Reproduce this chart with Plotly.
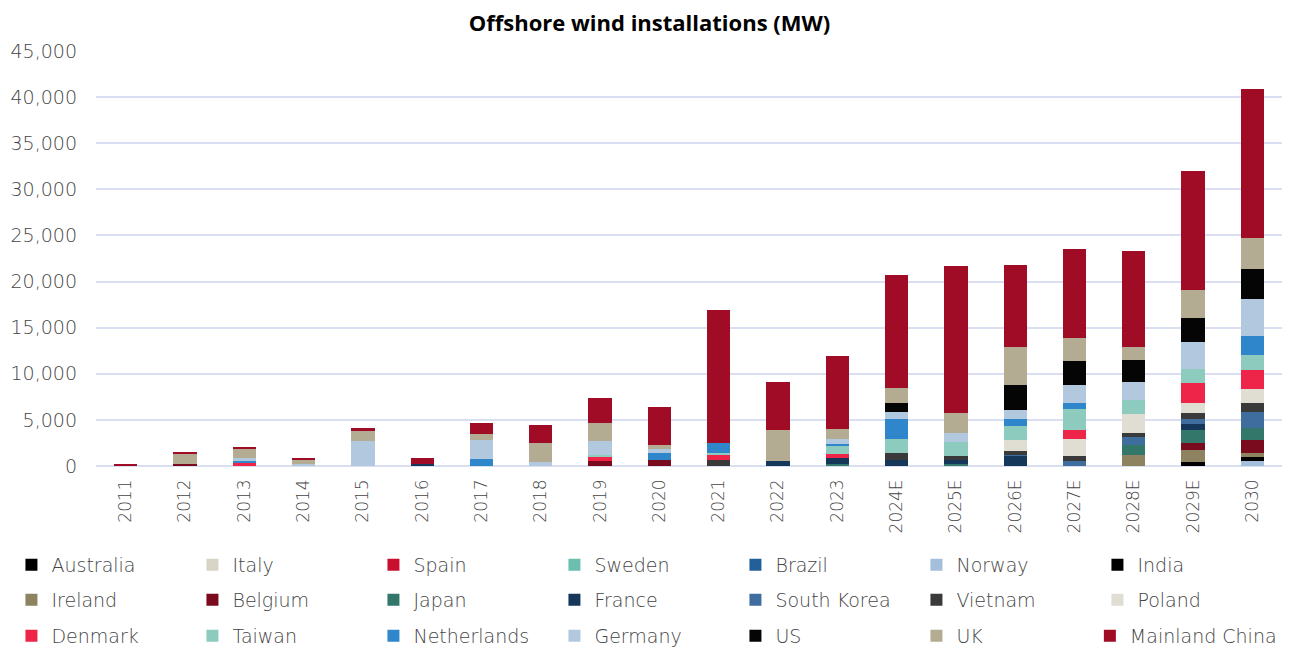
import plotly.graph_objects as go

years = ["2011", "2012", "2013", "2014", "2015", "2016", "2017", "2018", "2019", "2020",
         "2021", "2022", "2023", "2024E", "2025E", "2026E", "2027E", "2028E", "2029E", "2030"]

def z():
    return [0] * 20

australia = z(); australia[18] = 400
italy = z()
spain = z()
sweden = z()
brazil = z()
norway = z(); norway[19] = 540
india = z(); india[19] = 470
ireland = [0, 0, 0, 0, 0, 0, 0, 0, 0, 0, 0, 0, 0, 0, 0, 0, 0, 1200, 1340, 430]
belgium = [0, 220, 0, 100, 0, 0, 0, 0, 550, 620, 0, 0, 0, 0, 0, 0, 0, 0, 720, 1380]
japan = [0, 0, 0, 0, 0, 0, 0, 0, 0, 0, 0, 0, 180, 0, 180, 0, 0, 1050, 1450, 1340]
france = [0, 0, 0, 0, 0, 250, 0, 0, 0, 0, 0, 550, 650, 620, 470, 1090, 0, 0, 650, 0]
south_korea = [0, 0, 0, 0, 0, 0, 0, 0, 0, 0, 0, 0, 0, 0, 0, 110, 540, 940, 580, 1670]
vietnam = [0, 0, 0, 0, 0, 0, 0, 0, 0, 0, 655, 0, 0, 800, 435, 435, 510, 435, 650, 1050]
poland = [0, 0, 0, 0, 0, 0, 0, 0, 0, 0, 0, 0, 0, 0, 0, 1200, 1850, 1960, 1010, 1450]
denmark = [0, 0, 430, 0, 0, 0, 0, 0, 400, 0, 580, 0, 440, 0, 0, 0, 1050, 0, 2250, 2030]
taiwan = [0, 0, 0, 0, 0, 0, 0, 0, 220, 0, 180, 0, 910, 1490, 1560, 1520, 2180, 1560, 1450, 1670]
netherlands = [0, 0, 100, 0, 0, 0, 720, 0, 0, 800, 1130, 0, 220, 2220, 0, 725, 650, 0, 0, 2100]
germany = [0, 0, 330, 120, 2720, 0, 2100, 430, 1490, 400, 0, 0, 510, 760, 940, 1020, 1960, 1920, 2900, 3990]
us = [0, 0, 0, 0, 0, 0, 0, 0, 0, 0, 0, 0, 0, 910, 0, 2690, 2610, 2390, 2610, 3260]
uk = [0, 1090, 1010, 510, 1050, 0, 650, 2100, 2040, 440, 0, 3310, 1130, 1710, 2140, 4100, 2500, 1490, 3120, 3300]
mainland_china = [250, 110, 145, 110, 400, 650, 1160, 1920, 2690, 4110, 14420, 5240, 7930, 12180, 15930, 8860, 9680, 10340, 12830, 16200]

series = [
    ("Australia", australia, "#000000"),
    ("Italy", italy, "#D9D5C6"),
    ("Spain", spain, "#C8102E"),
    ("Sweden", sweden, "#6BBFAE"),
    ("Brazil", brazil, "#23609A"),
    ("Norway", norway, "#A3BFDB"),
    ("India", india, "#000000"),
    ("Ireland", ireland, "#8E8361"),
    ("Belgium", belgium, "#7A0A1E"),
    ("Japan", japan, "#33776A"),
    ("France", france, "#14375A"),
    ("South Korea", south_korea, "#3F6E9E"),
    ("Vietnam", vietnam, "#3A3A3A"),
    ("Poland", poland, "#E0DDD2"),
    ("Denmark", denmark, "#EE2449"),
    ("Taiwan", taiwan, "#8CCBBE"),
    ("Netherlands", netherlands, "#2F86CB"),
    ("Germany", germany, "#B2C8DF"),
    ("US", us, "#050505"),
    ("UK", uk, "#B3AC92"),
    ("Mainland China", mainland_china, "#A00C25"),
]

fig = go.Figure()
for i, (name, vals, col) in enumerate(series):
    lg = ["legend", "legend2", "legend3"][i // 7]
    if name == "Mainland China":
        lg = "legend4"
    fig.add_trace(go.Bar(x=years, y=vals, name=name, legend=lg,
                         marker=dict(color=col, line=dict(width=0))))

txt_col = "#454545"
leg_font = dict(family="DejaVu Sans", size=19, color=txt_col, weight=300)

def leg(xv, yv):
    return dict(orientation="h", traceorder="normal", x=xv, xanchor="left",
                y=yv, yanchor="middle", entrywidth=136, entrywidthmode="pixels",
                font=leg_font, bgcolor="rgba(0,0,0,0)", tracegroupgap=0)

# the page body adds an 8px offset, so the figure is sized to the visible area
fig.update_layout(
    barmode="stack",
    bargap=0.607,
    width=1283, height=640,
    margin=dict(l=88, r=9, t=43, b=182, autoexpand=False),
    paper_bgcolor="white", plot_bgcolor="white",
    title=dict(text="<b>Offshore wind installations (MW)</b>", x=0.5, xanchor="center",
               y=1 - 15 / 640, yanchor="middle",
               font=dict(family="Open Sans", size=22, color="#000000")),
    font=dict(family="DejaVu Sans", color=txt_col),
    xaxis=dict(tickangle=-90,
               tickfont=dict(family="DejaVu Sans", size=17, color=txt_col, weight=300),
               showgrid=False, showline=False, ticks="", ticklabelstandoff=9),
    yaxis=dict(range=[0, 45000], dtick=5000, tickformat=",",
               tickfont=dict(family="DejaVu Sans", size=19, color=txt_col, weight=300),
               gridcolor="#D9DEF0", gridwidth=1.5, zeroline=True, zerolinecolor="#D9DEF0",
               zerolinewidth=1.5, showline=False, ticks="", ticklabelstandoff=18),
    legend=leg(-0.0713, -0.2386),
    legend2=leg(-0.0713, -0.3229),
    legend3=leg(-0.0713, -0.4096),
    legend4=dict(orientation="h", x=0.838, xanchor="left", y=-0.4096, yanchor="middle",
                 font=leg_font, bgcolor="rgba(0,0,0,0)"),
)

fig.write_html("out.html")
